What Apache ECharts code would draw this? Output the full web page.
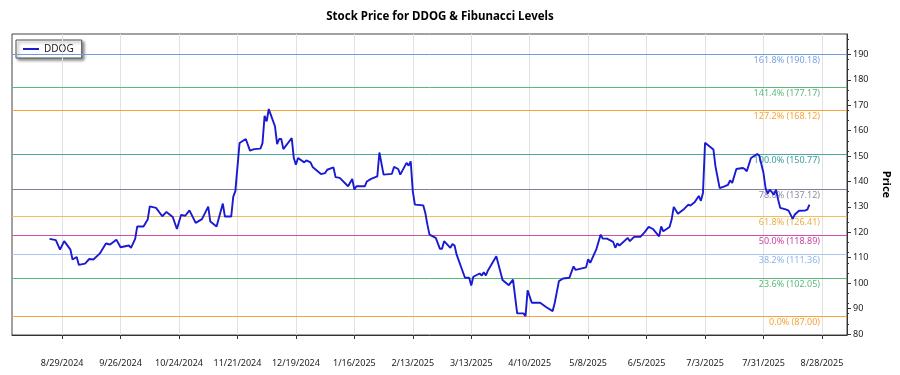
<!DOCTYPE html>
<html>
<head>
<meta charset="utf-8">
<title>DDOG Fibonacci levels</title>
<script src="https://cdn.jsdelivr.net/npm/echarts@6/dist/echarts.min.js"></script>
<style>
  html, body { margin: 0; padding: 0; background: #fff; }
  #main { width: 900px; height: 375px; }
</style>
</head>
<body>
<div id="main"></div>
<script>
// price series
const dates = [
  '2024-08-23','2024-08-26','2024-08-28','2024-08-30','2024-09-02','2024-09-03','2024-09-05','2024-09-06',
  '2024-09-09','2024-09-11','2024-09-13','2024-09-16','2024-09-19','2024-09-21','2024-09-24','2024-09-26',
  '2024-09-30','2024-10-01','2024-10-03','2024-10-04','2024-10-07','2024-10-09','2024-10-10','2024-10-13',
  '2024-10-16','2024-10-18','2024-10-21','2024-10-23','2024-10-25','2024-10-27','2024-10-29','2024-11-01',
  '2024-11-04','2024-11-07','2024-11-08','2024-11-11','2024-11-14','2024-11-15','2024-11-18','2024-11-19',
  '2024-11-20','2024-11-22','2024-11-25','2024-11-27','2024-11-29','2024-12-02','2024-12-03','2024-12-04',
  '2024-12-05','2024-12-06','2024-12-07','2024-12-09','2024-12-10','2024-12-11','2024-12-12','2024-12-13',
  '2024-12-17','2024-12-18','2024-12-19','2024-12-20','2024-12-23','2024-12-24','2024-12-26','2024-12-27',
  '2024-12-31','2025-01-02','2025-01-03','2025-01-06','2025-01-07','2025-01-09','2025-01-13','2025-01-15',
  '2025-01-16','2025-01-17','2025-01-21','2025-01-22','2025-01-24','2025-01-27','2025-01-28','2025-01-30',
  '2025-02-03','2025-02-04','2025-02-06','2025-02-07','2025-02-10','2025-02-11','2025-02-12','2025-02-13',
  '2025-02-14','2025-02-18','2025-02-19','2025-02-20','2025-02-21','2025-02-24','2025-02-26','2025-02-27',
  '2025-02-28','2025-03-03','2025-03-04','2025-03-05','2025-03-06','2025-03-10','2025-03-12','2025-03-13',
  '2025-03-14','2025-03-17','2025-03-18','2025-03-19','2025-03-20','2025-03-21','2025-03-25','2025-03-28',
  '2025-03-31','2025-04-02','2025-04-04','2025-04-07','2025-04-08','2025-04-09','2025-04-11','2025-04-15',
  '2025-04-18','2025-04-21','2025-04-22','2025-04-24','2025-04-26','2025-04-29','2025-05-01','2025-05-02',
  '2025-05-07','2025-05-08','2025-05-09','2025-05-12','2025-05-14','2025-05-15','2025-05-17','2025-05-20',
  '2025-05-21','2025-05-22','2025-05-23','2025-05-27','2025-05-28','2025-05-30','2025-06-02','2025-06-04',
  '2025-06-06','2025-06-08','2025-06-11','2025-06-12','2025-06-13','2025-06-16','2025-06-17','2025-06-18',
  '2025-06-20','2025-06-23','2025-06-25','2025-06-26','2025-06-28','2025-06-30','2025-07-01','2025-07-02',
  '2025-07-03','2025-07-07','2025-07-08','2025-07-10','2025-07-12','2025-07-14','2025-07-15','2025-07-16',
  '2025-07-18','2025-07-21','2025-07-22','2025-07-23','2025-07-25','2025-07-28','2025-07-29','2025-07-31',
  '2025-08-01','2025-08-02','2025-08-03','2025-08-05','2025-08-06','2025-08-07','2025-08-08','2025-08-11',
  '2025-08-12','2025-08-14','2025-08-15','2025-08-17','2025-08-20','2025-08-21','2025-08-22'
];
const prices = [
  117.4,116.9,113.2,116.5,113.2,109.3,110.3,107.2,
  107.7,109.5,109.3,111.6,115.6,115.2,117.1,114.1,
  114.8,113.9,117.4,122.3,122.3,125.0,130.2,129.6,
  126.3,128.0,126.0,121.3,126.8,126.5,128.6,123.7,
  125.2,130.1,124.2,122.3,131.3,126.2,126.2,134.0,
  136.2,155.1,156.7,152.1,152.7,152.9,155.1,165.8,
  163.6,168.5,166.2,161.6,154.7,156.7,156.7,152.7,
  157.1,149.2,146.6,149.2,147.5,148.3,147.5,145.7,
  142.9,143.3,144.6,145.5,141.7,141.4,138.1,141.0,
  136.8,138.1,138.1,140.0,141.0,142.0,151.4,142.7,
  143.0,145.7,144.9,142.7,147.3,146.2,147.9,136.1,
  130.9,130.6,127.6,123.0,119.1,117.8,113.5,113.5,
  116.5,113.9,115.4,114.8,111.2,102.1,102.1,99.1,
  102.5,103.8,103.0,104.3,103.0,105.0,110.6,101.2,
  99.2,101.4,88.1,88.1,87.0,97.2,92.3,92.3,
  90.5,89.0,92.3,100.8,101.8,102.1,106.6,105.2,
  106.2,109.4,108.0,113.5,119.1,117.5,117.5,116.2,
  113.9,115.6,114.8,117.8,116.5,118.2,118.2,120.0,
  122.1,121.3,118.4,122.3,120.4,122.1,125.0,130.0,
  127.3,129.2,130.9,130.5,131.8,134.3,132.4,135.5,
  155.2,152.6,145.9,137.4,138.0,138.7,140.4,139.4,
  144.9,145.3,144.9,144.0,149.2,150.8,150.1,143.3,
  137.4,135.2,136.8,134.8,136.8,132.9,129.6,128.9,
  128.5,125.3,127.0,128.5,128.6,128.9,130.9
];

// x tick labels, every 28 days
const tickDates = [
  '2024-08-29','2024-09-26','2024-10-24','2024-11-21','2024-12-19','2025-01-16','2025-02-13',
  '2025-03-13','2025-04-10','2025-05-08','2025-06-05','2025-07-03','2025-07-31','2025-08-28'
];
const yTicks = [80, 90, 100, 110, 120, 130, 140, 150, 160, 170, 180, 190];

// fibonacci levels
const fibNames  = ['0.0%', '23.6%', '38.2%', '50.0%', '61.8%', '78.6%', '100.0%', '127.2%', '141.4%', '161.8%'];
const fibValues = [87.00, 102.05, 111.36, 118.89, 126.41, 137.12, 150.77, 168.12, 177.17, 190.18];

const fibLineColors = ['#f5a33a','#5cb87c','#a9c6f2','#d04fa8','#f2bd5c','#7d8296','#4aa7a5','#f5a33a','#5cb87c','#6f9cdc'];
const fibTextColors = ['#f5a33a','#5cb87c','#8fb2ea','#c9449f','#e8ae45','#8a8f9e','#3f9c9a','#f5a33a','#5cb87c','#7ba3e0'];

const toTime = s => Date.parse(s + 'T00:00:00Z');
const fmtDate = v => {
  const d = new Date(v);
  return (d.getUTCMonth() + 1) + '/' + d.getUTCDate() + '/' + d.getUTCFullYear();
};

const FONT = 'Noto Sans';

var chart = echarts.init(document.getElementById('main'));

const option = {
  animation: false,
  textStyle: { fontFamily: FONT },
  title: {
    text: 'Stock Price for DDOG & Fibunacci Levels',
    left: 435,
    top: 6,
    textAlign: 'center',
    textStyle: { fontSize: 11.5, fontWeight: 'bold', color: '#000', fontFamily: FONT }
  },
  legend: {
    data: ['DDOG'],
    left: 16,
    top: 40,
    orient: 'vertical',
    icon: 'rect',
    itemWidth: 16,
    itemHeight: 2,
    itemGap: 4,
    padding: [4, 8, 4, 7],
    borderColor: '#555',
    borderWidth: 1,
    backgroundColor: '#fff',
    shadowColor: 'rgba(0,0,0,0.45)',
    shadowBlur: 3,
    shadowOffsetX: 2,
    shadowOffsetY: 2,
    textStyle: { fontSize: 10, color: '#222', fontFamily: FONT }
  },
  grid: {
    left: 12,
    right: 42,
    top: 34,
    bottom: 40,
    show: true,
    borderColor: '#444',
    borderWidth: 1
  },
  xAxis: {
    type: 'value',
    min: toTime('2024-08-05'),
    max: toTime('2025-09-09'),
    axisLine: { show: true, lineStyle: { color: '#333' } },
    axisTick: { show: true, length: 4, customValues: tickDates.map(toTime), lineStyle: { color: '#333' } },
    axisLabel: {
      customValues: tickDates.map(toTime),
      formatter: fmtDate,
      margin: 24,
      fontSize: 9,
      color: '#222',
      fontFamily: FONT
    },
    splitLine: { show: false }
  },
  yAxis: {
    type: 'value',
    position: 'right',
    min: 79.6,
    max: 198,
    name: 'Price',
    nameLocation: 'middle',
    nameRotate: -90,
    nameGap: 34,
    nameTextStyle: { fontSize: 11, fontWeight: 'bold', color: '#000', fontFamily: FONT },
    axisLine: { show: true, lineStyle: { color: '#333' } },
    axisTick: { show: true, length: 4, customValues: yTicks, lineStyle: { color: '#333' } },
    minorTick: { show: true, splitNumber: 5, length: 2, lineStyle: { color: '#333' } },
    axisLabel: { customValues: yTicks, fontSize: 9, color: '#222', margin: 6, fontFamily: FONT },
    splitLine: { show: false }
  },
  series: [
    {
      // vertical grid lines at the date ticks
      name: 'grid',
      type: 'line',
      data: [],
      z: 1,
      silent: true,
      markLine: {
        symbol: ['none', 'none'],
        silent: true,
        label: { show: false },
        lineStyle: { color: '#e2e2e2', width: 1, type: 'solid' },
        data: tickDates.map(d => [
          { coord: [toTime(d), 79.6] },
          { coord: [toTime(d), 198] }
        ])
      }
    },
    {
      name: 'fib',
      type: 'line',
      data: [],
      z: 2,
      silent: true,
      markLine: {
        symbol: ['none', 'none'],
        silent: true,
        data: fibValues.map((v, i) => ({
          yAxis: v,
          lineStyle: { color: fibLineColors[i], width: 1, type: 'solid' },
          label: {
            show: true,
            position: 'insideEndBottom',
            distance: [27, 2],
            formatter: fibNames[i] + ' (' + v.toFixed(2) + ')',
            color: fibTextColors[i],
            fontSize: 9,
            fontFamily: FONT
          }
        }))
      }
    },
    {
      name: 'DDOG',
      type: 'line',
      z: 5,
      showSymbol: false,
      symbol: 'none',
      color: '#1a1ad2',
      lineStyle: { width: 1.9, color: '#1a1ad2' },
      data: dates.map((d, i) => [toTime(d), prices[i]])
    }
  ]
};

chart.setOption(option);
</script>
</body>
</html>
